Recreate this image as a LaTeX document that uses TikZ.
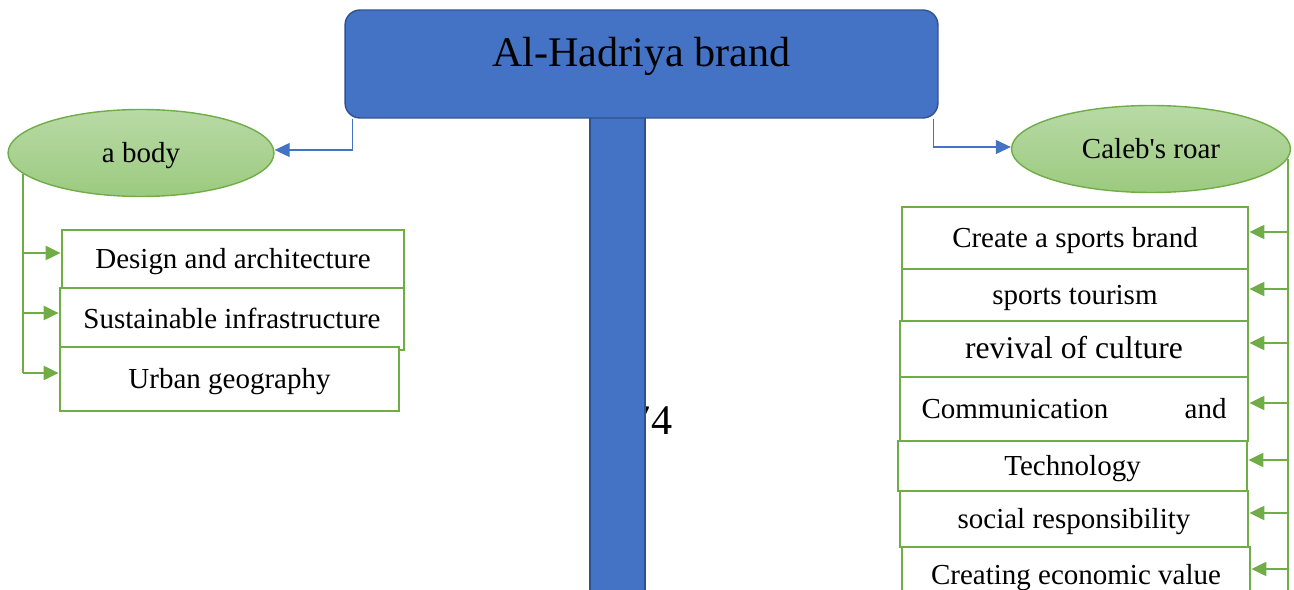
\documentclass[tikz,border=0pt]{standalone}
\usepackage{fontspec}
\setmainfont{Liberation Serif}
\usetikzlibrary{arrows.meta,shapes.geometric}
\definecolor{brandblue}{HTML}{4472C4}
\definecolor{brandedge}{HTML}{2F528F}
\definecolor{leafgreen}{HTML}{70AD47}
\definecolor{ovaltop}{HTML}{B8DAA6}
\definecolor{ovalbottom}{HTML}{9CCA7F}

\begin{document}
\begin{tikzpicture}[x=0.02cm, y=-0.02cm,
        itembox/.style={draw=leafgreen, line width=1.6pt, fill=white, inner sep=0pt,
            text height=15pt, text depth=4pt, font=\fontsize{16.5}{20}\selectfont},
        oval/.style={ellipse, draw=leafgreen, line width=0.8pt, top color=ovaltop,
            bottom color=ovalbottom, inner sep=0pt, minimum height=1.74cm,
            text height=15pt, text depth=4pt, font=\fontsize{16.5}{20}\selectfont},
        spine/.style={leafgreen, line width=1.2pt},
        feed/.style={leafgreen, line width=1.2pt, -{Triangle[length=0.3cm, width=0.28cm]}},
        link/.style={brandblue, line width=0.6pt, -{Triangle[length=0.3cm, width=0.28cm]}}]
        \useasboundingbox (0, 0) rectangle (1294, 590);
        \clip (0, 0) rectangle (1294, 590);

        % page number behind the post
        \node (pageno) at (651, 421) {\fontsize{24}{28}\selectfont 74};

        % sign post and its board
        \draw[brandedge, fill=brandblue, line width=0.8pt] (590, 110) rectangle (645, 600);
        \node[draw=brandedge, fill=brandblue, line width=0.8pt, rounded corners=0.3cm,
            minimum width=11.86cm, minimum height=2.16cm] (brand) at (641.5, 64) {};
        \node[font=\fontsize{24}{28}\selectfont] (brandtitle) at (641.5, 56) {Al-Hadriya brand};

        % the two ovals
        \node[oval, minimum width=5.32cm] (body) at (141, 153) {a body};
        \node[oval, minimum width=5.58cm] (caleb) at (1151, 149) {Caleb\textquotesingle s roar};
        \draw[link] ([xshift=0.16cm]brand.south west) |- ([yshift=0.06cm]body.east);
        \draw[link] ([xshift=-0.1cm]brand.south east) |- ([yshift=0.04cm]caleb.west);

        % left boxes
        \node[itembox, minimum width=6.84cm, minimum height=1.16cm] (design) at (233, 259) {Design and architecture};
        \node[itembox, minimum width=6.88cm, minimum height=1.24cm] (sustain) at (232, 319) {Sustainable infrastructure};
        \node[itembox, minimum width=6.78cm, minimum height=1.28cm] (urban) at (229.5, 379) {Urban geography};

        % right boxes
        \node[itembox, minimum width=6.92cm, minimum height=1.24cm] (create) at (1075, 238) {Create a sports brand};
        \node[itembox, minimum width=6.92cm, minimum height=1.04cm] (tourism) at (1075, 295) {sports tourism};
        \node[itembox, minimum width=6.96cm, minimum height=1.12cm, font=\fontsize{18}{21}\selectfont] (revival) at (1074, 349) {revival of culture};
        \node[itembox, minimum width=6.96cm, minimum height=1.28cm] (comm) at (1074, 409) {\hbox to 6.1cm{Communication\hfill and}};
        \node[itembox, minimum width=6.98cm, minimum height=1.0cm] (techno) at (1072.5, 466) {Technology};
        \node[itembox, minimum width=6.96cm, minimum height=1.12cm] (social) at (1074, 519) {social responsibility};
        \node[itembox, minimum width=6.96cm, minimum height=1.12cm] (creating) at (1076, 575) {Creating economic value};

        % left feed lines
        \draw[spine] (body.190) -- ([yshift=0.12cm]body.190 |- urban.west);
        \foreach \b in {design, sustain, urban}
            \draw[feed] ([yshift=0.12cm]body.190 |- \b.west) -- ([yshift=0.12cm]\b.west);

        % right feed lines
        \coordinate (rbottom) at (1287, 600);
        \draw[spine] (caleb.-4) -- (caleb.-4 |- rbottom);
        \foreach \b in {create, tourism, revival, comm, techno, social, creating}
            \draw[feed] ([yshift=0.12cm]caleb.-4 |- \b.east) -- ([yshift=0.12cm]\b.east);
    \end{tikzpicture}
\end{document}
